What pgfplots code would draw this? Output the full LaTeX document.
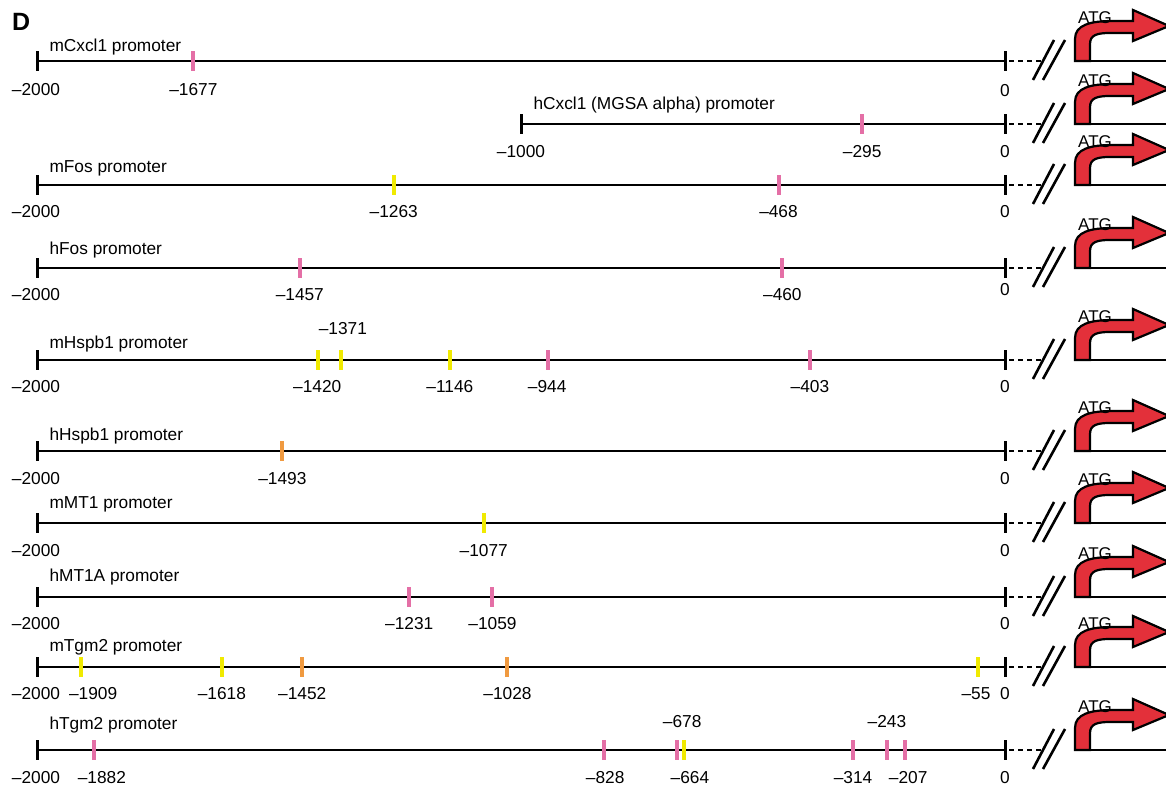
\documentclass[border=0pt]{standalone}
\usepackage{fontspec}
\setmainfont{Liberation Sans}
\usepackage{pgfplots}
\pgfplotsset{compat=1.18}
\definecolor{pinkm}{HTML}{E46FA6}
\definecolor{yellowm}{HTML}{F0EA00}
\definecolor{orangem}{HTML}{F09A40}
\definecolor{arrowred}{HTML}{E3303A}
\pgfplotsset{rowline/.style={black, line width=1.3pt, mark=|, mark size=5pt, mark options={line width=1.5pt}}}
\tikzset{lab/.style={font=\fontsize{8.65}{10}\selectfont, inner sep=0pt, anchor=mid},
  pname/.style={font=\fontsize{8.65}{10}\selectfont, inner sep=0pt, anchor=mid west}}
\begin{document}
\begin{tikzpicture}
\begin{axis}[
  x=0.242pt, y=0.5pt, y dir=reverse,
  xmin=-2076.45, xmax=332.64, ymin=0, ymax=788,
  axis lines=none, clip=false,
]
% promoter lines
\addplot[rowline] coordinates {(-2000,61) (0,61)};
\addplot[rowline] coordinates {(-1000,124) (0,124)};
\addplot[rowline] coordinates {(-2000,185) (0,185)};
\addplot[rowline] coordinates {(-2000,268) (0,268)};
\addplot[rowline] coordinates {(-2000,360) (0,360)};
\addplot[rowline] coordinates {(-2000,451) (0,451)};
\addplot[rowline] coordinates {(-2000,523) (0,523)};
\addplot[rowline] coordinates {(-2000,597) (0,597)};
\addplot[rowline] coordinates {(-2000,667) (0,667)};
\addplot[rowline] coordinates {(-2000,750) (0,750)};
% sites
\addplot[only marks, mark=|, mark size=5pt, mark options={pinkm, line width=2pt}] coordinates {
(-1677,61) (-295,124) (-468,185) (-1457,268) (-460,268) (-944,360) (-403,360)
(-1231,597) (-1059,597) (-1882,750) (-828,750) (-678,750) (-314,750) (-243,750) (-207,750)};
\addplot[only marks, mark=|, mark size=5pt, mark options={yellowm, line width=2pt}] coordinates {
(-1263,185) (-1420,360) (-1371,360) (-1146,360) (-1077,523) (-1909,667) (-1618,667) (-55,667) (-664,750)};
\addplot[only marks, mark=|, mark size=5pt, mark options={orangem, line width=2pt}] coordinates {
(-1493,451) (-1452,667) (-1028,667)};
% names
\node[font=\fontsize{12.5}{14}\selectfont\bfseries, inner sep=0pt] at (axis cs:-2033,22) {D};
\node[pname] at (axis cs:-1975,46) {mCxcl1 promoter};
\node[pname] at (axis cs:-975,104) {hCxcl1 (MGSA alpha) promoter};
\node[pname] at (axis cs:-1975,167) {mFos promoter};
\node[pname] at (axis cs:-1975,249) {hFos promoter};
\node[pname] at (axis cs:-1975,343) {mHspb1 promoter};
\node[pname] at (axis cs:-1975,435) {hHspb1 promoter};
\node[pname] at (axis cs:-1975,503) {mMT1 promoter};
\node[pname] at (axis cs:-1975,576) {hMT1A promoter};
\node[pname] at (axis cs:-1975,646) {mTgm2 promoter};
\node[pname] at (axis cs:-1975,724) {hTgm2 promoter};
% numbers
\node[lab] at (axis cs:-2002,90) {–2000};
\node[lab] at (axis cs:-1677,90) {–1677};
\node[lab] at (axis cs:0,91) {0};
\node[lab] at (axis cs:-1000,152) {–1000};
\node[lab] at (axis cs:-295,152) {–295};
\node[lab] at (axis cs:0,152) {0};
\node[lab] at (axis cs:-2002,212) {–2000};
\node[lab] at (axis cs:-1263,212) {–1263};
\node[lab] at (axis cs:-468,212) {–468};
\node[lab] at (axis cs:0,212) {0};
\node[lab] at (axis cs:-2002,295) {–2000};
\node[lab] at (axis cs:-1457,295) {–1457};
\node[lab] at (axis cs:-460,295) {–460};
\node[lab] at (axis cs:0,290) {0};
\node[lab] at (axis cs:-2002,387) {–2000};
\node[lab] at (axis cs:-1421,387) {–1420};
\node[lab] at (axis cs:-1368,329) {–1371};
\node[lab] at (axis cs:-1147,387) {–1146};
\node[lab] at (axis cs:-946,387) {–944};
\node[lab] at (axis cs:-403,387) {–403};
\node[lab] at (axis cs:0,387) {0};
\node[lab] at (axis cs:-2002,479) {–2000};
\node[lab] at (axis cs:-1493,479) {–1493};
\node[lab] at (axis cs:0,479) {0};
\node[lab] at (axis cs:-2002,551) {–2000};
\node[lab] at (axis cs:-1077,551) {–1077};
\node[lab] at (axis cs:0,551) {0};
\node[lab] at (axis cs:-2002,624) {–2000};
\node[lab] at (axis cs:-1231,624) {–1231};
\node[lab] at (axis cs:-1059,624) {–1059};
\node[lab] at (axis cs:0,624) {0};
\node[lab] at (axis cs:-2002,694) {–2000};
\node[lab] at (axis cs:-1884,694) {–1909};
\node[lab] at (axis cs:-1618,694) {–1618};
\node[lab] at (axis cs:-1452,694) {–1452};
\node[lab] at (axis cs:-1028,694) {–1028};
\node[lab] at (axis cs:-60,694) {–55};
\node[lab] at (axis cs:0,694) {0};
\node[lab] at (axis cs:-2002,778) {–2000};
\node[lab] at (axis cs:-1866,778) {–1882};
\node[lab] at (axis cs:-826,778) {–828};
\node[lab] at (axis cs:-667,722) {–678};
\node[lab] at (axis cs:-651,778) {–664};
\node[lab] at (axis cs:-314,778) {–314};
\node[lab] at (axis cs:-244,722) {–243};
\node[lab] at (axis cs:-200,778) {–207};
\node[lab] at (axis cs:0,778) {0};
% anchors for decorations
\coordinate (R1) at (axis cs:0,61);
\coordinate (R2) at (axis cs:0,124);
\coordinate (R3) at (axis cs:0,185);
\coordinate (R4) at (axis cs:0,268);
\coordinate (R5) at (axis cs:0,360);
\coordinate (R6) at (axis cs:0,451);
\coordinate (R7) at (axis cs:0,523);
\coordinate (R8) at (axis cs:0,597);
\coordinate (R9) at (axis cs:0,667);
\coordinate (R10) at (axis cs:0,750);
\coordinate (BB1) at (axis cs:-2076.45,788);
\coordinate (BB2) at (axis cs:332.64,0);
\end{axis}
\foreach \i in {1,...,10}{
  \begin{scope}[shift={(R\i)}, x=0.5pt, y=0.5pt]
    \draw[line width=1.3pt, dash pattern=on 2.5pt off 2pt] (4,0) -- (37,0);
    \draw[line width=1.3pt] (28,-19) -- (49,21);
    \draw[line width=1.3pt] (38,-19) -- (60,21);
    \draw[line width=1.3pt] (70,0) -- (175,0);
    \filldraw[fill=arrowred, draw=black, line width=1.1pt, line join=miter]
      (70,0) -- (70,22) .. controls (70,36) and (85,40) .. (108,40) -- (128,40) -- (128,51)
      -- (164,35) -- (128,20) -- (128,28) -- (105,28) .. controls (92,28) and (85,26) .. (85,17)
      -- (85,0) -- cycle;
    \node[font=\fontsize{8.5}{9}\selectfont, inner sep=0pt, anchor=mid] at (90,43) {ATG};
  \end{scope}
}
\pgfresetboundingbox
\useasboundingbox (BB1) rectangle (BB2);
\end{tikzpicture}
\end{document}
